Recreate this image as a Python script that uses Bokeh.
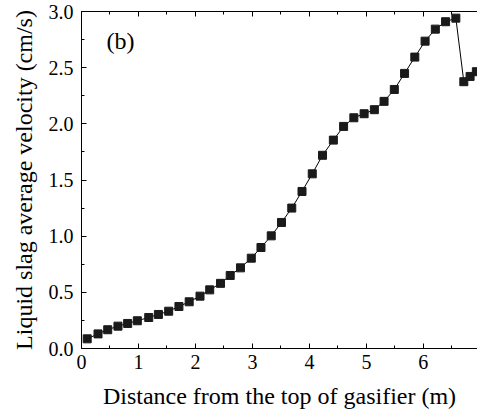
from bokeh.plotting import figure
from bokeh.models import Range1d, LinearAxis, FixedTicker, PrintfTickFormatter
from bokeh.embed import file_html
from bokeh.resources import INLINE
from bokeh.core.properties import value

distance_m = [0.10, 0.29, 0.46, 0.64, 0.81, 0.98, 1.18, 1.35, 1.53, 1.71,
              1.89, 2.08, 2.25, 2.44, 2.61, 2.79, 2.98, 3.15, 3.33, 3.51,
              3.69, 3.87, 4.05, 4.23, 4.42, 4.60, 4.78, 4.96, 5.14, 5.31,
              5.49, 5.67, 5.85, 6.03, 6.21, 6.39, 6.57, 6.71, 6.82, 6.93]
velocity_cms = [0.086, 0.13, 0.167, 0.199, 0.223, 0.247, 0.276, 0.303, 0.332, 0.374,
                0.416, 0.466, 0.522, 0.58, 0.65, 0.718, 0.804, 0.899, 1.003, 1.122,
                1.25, 1.398, 1.555, 1.72, 1.855, 1.977, 2.054, 2.09, 2.126, 2.2,
                2.306, 2.449, 2.594, 2.736, 2.843, 2.909, 2.941, 2.375, 2.422, 2.464]
x_ticks = [0, 1, 2, 3, 4, 5, 6, 7]
y_ticks = [0.0, 0.5, 1.0, 1.5, 2.0, 2.5, 3.0]
panel_label = "(b)"
x_title = "Distance from the top of gasifier (m)"
y_title = "Liquid slag average velocity (cm/s)"

FONT = "Liberation Serif"

p = figure(width=477, height=414, output_backend="svg", toolbar_location=None,
           x_range=Range1d(0, 6.95), y_range=Range1d(0, 3.0),
           min_border_left=81, min_border_right=0, min_border_top=11,
           min_border_bottom=66, x_axis_location=None, y_axis_location=None)
p.outline_line_color = None
p.grid.visible = False
p.background_fill_color = "white"
p.border_fill_color = "white"

def style_axis(ax, labels=True):
    ax.major_tick_in = 5
    ax.major_tick_out = 0
    ax.minor_tick_in = 3
    ax.minor_tick_out = 0
    ax.axis_line_color = "black"
    ax.axis_line_width = 1
    ax.major_tick_line_color = "black"
    ax.minor_tick_line_color = "black"
    ax.major_label_text_font = FONT
    ax.major_label_text_font_size = "20px"
    ax.major_label_text_color = "black" if labels else None
    ax.axis_label_text_font = FONT
    ax.axis_label_text_font_size = "24px"
    ax.axis_label_text_font_style = "normal"
    ax.axis_label_text_color = "black"

xa = LinearAxis(ticker=FixedTicker(ticks=x_ticks, minor_ticks=[t + 0.5 for t in x_ticks]))
xa.axis_label = x_title
style_axis(xa)
xa.major_label_standoff = 6
xa.axis_label_standoff = 11
p.add_layout(xa, "below")

ya = LinearAxis(ticker=FixedTicker(ticks=y_ticks, minor_ticks=[t + 0.25 for t in y_ticks]),
                formatter=PrintfTickFormatter(format="%.1f"))
ya.axis_label = y_title
style_axis(ya)
ya.major_label_standoff = 8
ya.axis_label_standoff = 9
p.add_layout(ya, "left")

xt = LinearAxis(ticker=FixedTicker(ticks=x_ticks, minor_ticks=[t + 0.5 for t in x_ticks]))
style_axis(xt, labels=False)
xt.major_label_text_font_size = "0px"
xt.major_label_standoff = 0
p.add_layout(xt, "above")

p.line(distance_m, velocity_cms, line_color="black", line_width=1)
p.scatter(distance_m, velocity_cms, marker="square", size=8,
          fill_color="#1a1a1a", line_color="#1a1a1a")

p.text(x=[0.44], y=[2.74], text=[panel_label], text_font=value(FONT),
       text_font_size="24px", text_baseline="middle", text_align="left",
       text_color="black")

open("out.html", "w").write(file_html(p, INLINE))
